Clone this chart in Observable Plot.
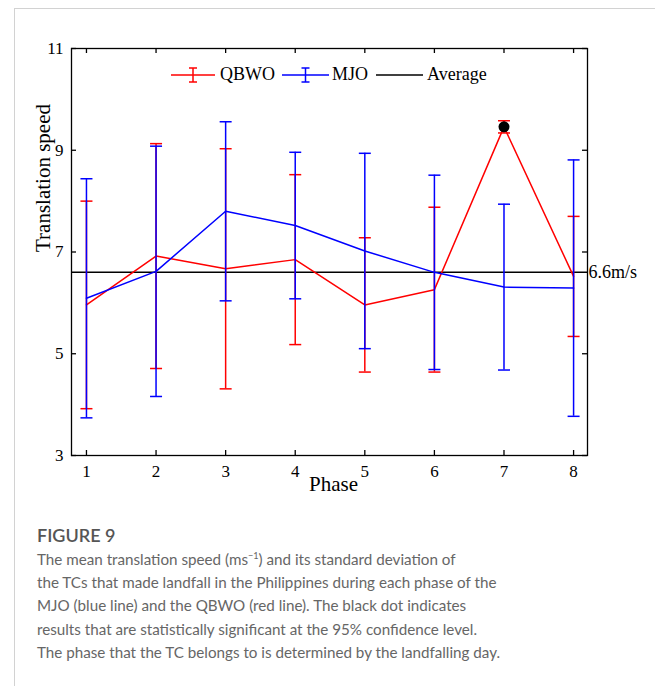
<!DOCTYPE html>
<html>
<head>
<meta charset="utf-8">
<script src="https://cdn.jsdelivr.net/npm/d3@7"></script>
<script src="https://cdn.jsdelivr.net/npm/@observablehq/plot@0.6"></script>
<style>
  html, body { margin: 0; padding: 0; background: #fff; }
  body { width: 655px; height: 686px; position: relative; overflow: hidden; }
  #card { position: absolute; left: 14px; top: 8px; right: 0; bottom: 0;
          border-left: 1px solid #d2d2d2; border-top: 1px solid #d2d2d2; }
  #chart { position: absolute; left: 0; top: 0; }
  #legend { position: absolute; left: 171px; top: 64px; display: flex; align-items: center;
            font-family: "Liberation Serif", serif; font-size: 18px; color: #000; white-space: nowrap; }
  #legend svg { display: block; }
  #fig { position: absolute; left: 37px; top: 524px; font-family: Lato, sans-serif;
         font-size: 18px; line-height: 22px; font-weight: 600; color: #555; }
  #caption { position: absolute; left: 37px; top: 548px; font-family: Lato, sans-serif;
             font-size: 15.2px; line-height: 23.2px; color: #666; white-space: nowrap; }
  #caption sup { font-size: 0.6em; line-height: 0; }
</style>
</head>
<body>
<div id="card"></div>
<div id="chart"></div>
<div id="legend"></div>
<div id="fig">FIGURE 9</div>
<div id="caption">The mean translation speed (ms<sup>−1</sup>) and its standard deviation of<br>the TCs that made landfall in the Philippines during each phase of the<br>MJO (blue line) and the QBWO (red line). The black dot indicates<br>results that are statistically significant at the 95% confidence level.<br>The phase that the TC belongs to is determined by the landfalling day.</div>
<script>
// Mean translation speed (m/s) and its standard deviation per phase
const phases = [1, 2, 3, 4, 5, 6, 7, 8];
const qbwoMean = [5.96, 6.92, 6.67, 6.85, 5.96, 6.26, 9.46, 6.52];
const qbwoSd   = [2.04, 2.21, 2.36, 1.67, 1.32, 1.62, 0.12, 1.18];
const mjoMean  = [6.09, 6.62, 7.80, 7.52, 7.02, 6.60, 6.31, 6.29];
const mjoSd    = [2.35, 2.46, 1.76, 1.44, 1.92, 1.91, 1.63, 2.52];
const average = 6.6;
const significantQbwo = [7];
const yTicks = [3, 5, 7, 9, 11];

const seriesColor = { QBWO: "#ff0000", MJO: "#0000ff" };

const rows = (name, means, sds) => phases.map((p, i) => ({
  phase: p, series: name, mean: means[i], lo: means[i] - sds[i], hi: means[i] + sds[i]
}));
const qbwo = rows("QBWO", qbwoMean, qbwoSd);
const mjo = rows("MJO", mjoMean, mjoSd);

const W = 655, H = 500;
const mL = 71, mT = 48, mR = 68, mB = 45;
const pw = W - mL - mR, ph = H - mT - mB;

// horizontal cap for the error bars
const cap = { draw(ctx, size) { const r = Math.sqrt(size / Math.PI); ctx.moveTo(-r, 0); ctx.lineTo(r, 0); } };

const seriesMarks = (data) => {
  const c = seriesColor[data[0].series];
  return [
    Plot.ruleX(data, { x: "phase", y1: "lo", y2: "hi", stroke: c, strokeWidth: 1.5 }),
    Plot.dot(data, { x: "phase", y: "hi", symbol: cap, r: 6, fill: "none", stroke: c, strokeWidth: 1.5 }),
    Plot.dot(data, { x: "phase", y: "lo", symbol: cap, r: 6, fill: "none", stroke: c, strokeWidth: 1.5 }),
    Plot.line(data, { x: "phase", y: "mean", stroke: c, strokeWidth: 1.5 })
  ];
};

const chart = Plot.plot({
  width: W, height: H,
  marginLeft: mL, marginTop: mT, marginRight: mR, marginBottom: mB,
  style: { fontFamily: "'Liberation Serif', serif", fontSize: "17px", color: "#000", background: "transparent" },
  x: { domain: [0.785, 8.2], axis: null },
  y: { domain: [3, 11], axis: null },
  marks: [
    Plot.ruleY([average], { stroke: "#000", strokeWidth: 1.5 }),
    ...seriesMarks(qbwo),
    ...seriesMarks(mjo),
    Plot.dot(qbwo.filter(d => significantQbwo.includes(d.phase)), { x: "phase", y: "mean", r: 5.5, fill: "#000" }),
    Plot.frame({ stroke: "#000", strokeWidth: 1.3 }),
    // inward ticks on all four sides
    Plot.tickY(yTicks, { y: d => d, insetRight: pw - 5, stroke: "#000", strokeWidth: 1.3 }),
    Plot.tickY(yTicks, { y: d => d, insetLeft: pw - 5, stroke: "#000", strokeWidth: 1.3 }),
    Plot.tickX(phases, { x: d => d, insetBottom: ph - 5, stroke: "#000", strokeWidth: 1.3 }),
    Plot.tickX(phases, { x: d => d, insetTop: ph - 5, stroke: "#000", strokeWidth: 1.3 }),
    // tick labels
    Plot.text(yTicks, { y: d => d, text: d => String(d), frameAnchor: "left", textAnchor: "end", dx: -8, fontSize: 17 }),
    Plot.text(phases, { x: d => d, text: d => String(d), frameAnchor: "bottom", lineAnchor: "top", dy: 9, fontSize: 17 }),
    // axis titles
    Plot.text(["Phase"], { text: d => d, frameAnchor: "bottom", dx: 4, dy: 35, fontSize: 21 }),
    Plot.text(["Translation speed"], { text: d => d, frameAnchor: "left", rotate: -90, dx: -28, fontSize: 21 }),
    Plot.text([average], { y: d => d, text: d => `${d}m/s`, frameAnchor: "right", textAnchor: "start", dx: 1, fontSize: 18 })
  ]
});
document.getElementById("chart").append(chart);

// legend drawn inside the frame, top
const legend = document.getElementById("legend");
const icon = (color, w, bar) => {
  const m = w / 2;
  return `<svg width="${w}" height="16" viewBox="0 0 ${w} 16">
    <line x1="0" y1="8" x2="${w}" y2="8" stroke="${color}" stroke-width="1.5"/>
    ${bar ? `<line x1="${m}" y1="1" x2="${m}" y2="15" stroke="${color}" stroke-width="1.5"/>
    <line x1="${m - 4}" y1="1" x2="${m + 4}" y2="1" stroke="${color}" stroke-width="1.5"/>
    <line x1="${m - 4}" y1="15" x2="${m + 4}" y2="15" stroke="${color}" stroke-width="1.5"/>` : ""}
  </svg>`;
};
const items = [
  { label: "QBWO", color: seriesColor.QBWO, w: 44, bar: true, gapIcon: 5, gapAfter: 7 },
  { label: "MJO", color: seriesColor.MJO, w: 47, bar: true, gapIcon: 3, gapAfter: 8 },
  { label: "Average", color: "#000", w: 47, bar: false, gapIcon: 4, gapAfter: 0 }
];
legend.innerHTML = items.map(it =>
  `<span style="margin-right:${it.gapIcon}px">${icon(it.color, it.w, it.bar)}</span><span style="margin-right:${it.gapAfter}px">${it.label}</span>`
).join("");
</script>
</body>
</html>
